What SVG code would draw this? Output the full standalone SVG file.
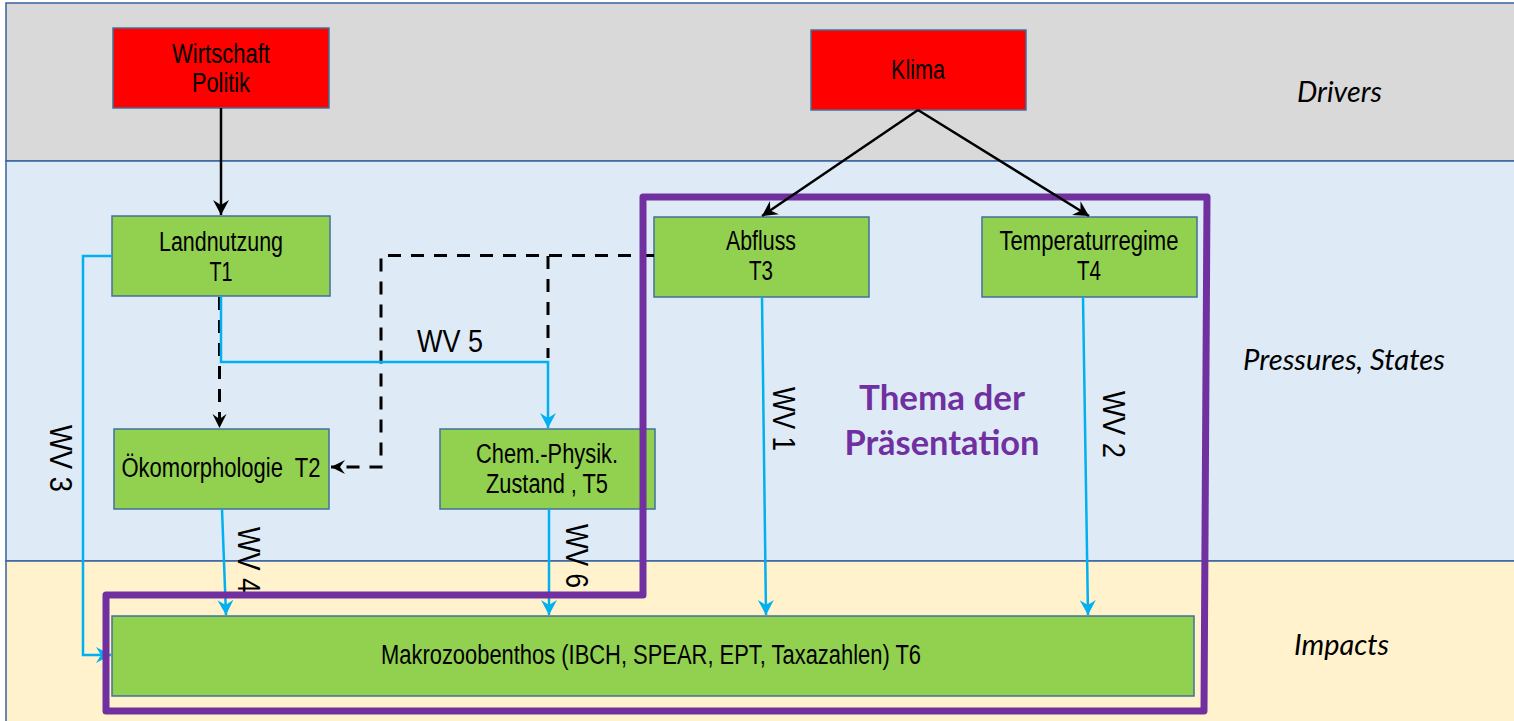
<svg xmlns="http://www.w3.org/2000/svg" width="1514" height="721" viewBox="0 0 1514 721">
  <style>
    .band { stroke: #3a62a0; stroke-width: 1.5; }
    .red { fill: #ff0000; stroke: #41719c; stroke-width: 1.5; }
    .green { fill: #92d050; stroke: #41719c; stroke-width: 1.5; }
    .lbl { font-family: "Liberation Sans Narrow", "Liberation Sans", Arial, sans-serif; font-size: 27px; fill: #000; text-anchor: middle; }
    .wv { font-family: "Liberation Sans Narrow", "Liberation Sans", Arial, sans-serif; font-size: 31px; fill: #000; }
    .layer { font-family: Lato, "Open Sans", "Noto Sans", sans-serif; font-style: italic; font-size: 29px; fill: #000; }
    .theme { font-family: Lato, "Open Sans", "Noto Sans", sans-serif; font-weight: bold; font-size: 35px; fill: #7030a0; text-anchor: middle; }
    .blue { fill: none; stroke: #00b0f0; stroke-width: 2.5; }
    .dash { fill: none; stroke: #000; stroke-width: 3; stroke-dasharray: 13 10; }
    .solid { fill: none; stroke: #000; stroke-width: 2.5; }
  </style>
  <defs>
    <marker id="ah-black" markerUnits="userSpaceOnUse" viewBox="-16 -9 17 18" refX="0" refY="0" markerWidth="17" markerHeight="18" orient="auto">
      <path d="M0,0 L-15,-8 L-10,0 L-15,8 Z" fill="#000"/>
    </marker>
    <marker id="ah-blue" markerUnits="userSpaceOnUse" viewBox="-16 -9 17 18" refX="0" refY="0" markerWidth="17" markerHeight="18" orient="auto">
      <path d="M0,0 L-15,-8 L-10,0 L-15,8 Z" fill="#00b0f0"/>
    </marker>
    <marker id="ah-dash" markerUnits="userSpaceOnUse" viewBox="-16 -8 17 16" refX="0" refY="0" markerWidth="17" markerHeight="16" orient="auto">
      <path d="M0,0 L-14,-7 L-9,0 L-14,7 Z" fill="#000"/>
    </marker>
  </defs>

  <!-- layer bands -->
  <g id="bands">
    <rect class="band" x="6" y="3" width="1530" height="158" fill="#d9d9d9"/>
    <rect class="band" x="6" y="161" width="1530" height="400" fill="#deebf7"/>
    <rect class="band" x="6" y="561" width="1530" height="180" fill="#fff2cc"/>
    <text class="layer" x="1297" y="102" textLength="85" lengthAdjust="spacingAndGlyphs">Drivers</text>
    <text class="layer" x="1243" y="370" textLength="202" lengthAdjust="spacingAndGlyphs">Pressures, States</text>
    <text class="layer" x="1294" y="655" textLength="95" lengthAdjust="spacingAndGlyphs">Impacts</text>
  </g>

  <!-- nodes -->
  <g id="wirtschaft-politik">
    <rect class="red" x="113" y="28" width="216" height="80"/>
    <text class="lbl" x="221" y="63" textLength="98" lengthAdjust="spacingAndGlyphs">Wirtschaft</text>
    <text class="lbl" x="221" y="92" textLength="58" lengthAdjust="spacingAndGlyphs">Politik</text>
  </g>
  <g id="klima">
    <rect class="red" x="811" y="30" width="215" height="80"/>
    <text class="lbl" x="918" y="79" textLength="54" lengthAdjust="spacingAndGlyphs">Klima</text>
  </g>
  <g id="landnutzung">
    <rect class="green" x="112" y="216" width="218" height="80"/>
    <text class="lbl" x="221" y="251" textLength="124" lengthAdjust="spacingAndGlyphs">Landnutzung</text>
    <text class="lbl" x="221" y="281" textLength="23" lengthAdjust="spacingAndGlyphs">T1</text>
  </g>
  <g id="abfluss">
    <rect class="green" x="654" y="217" width="215" height="80"/>
    <text class="lbl" x="761" y="250" textLength="70" lengthAdjust="spacingAndGlyphs">Abfluss</text>
    <text class="lbl" x="761" y="280" textLength="24" lengthAdjust="spacingAndGlyphs">T3</text>
  </g>
  <g id="temperaturregime">
    <rect class="green" x="982" y="217" width="215" height="80"/>
    <text class="lbl" x="1089" y="250" textLength="179" lengthAdjust="spacingAndGlyphs">Temperaturregime</text>
    <text class="lbl" x="1089" y="280" textLength="24" lengthAdjust="spacingAndGlyphs">T4</text>
  </g>
  <g id="oekomorphologie">
    <rect class="green" x="114" y="429" width="215" height="80"/>
    <text class="lbl" x="221" y="477" textLength="199" lengthAdjust="spacingAndGlyphs" xml:space="preserve">Ökomorphologie  T2</text>
  </g>
  <g id="chem-physik">
    <rect class="green" x="440" y="429" width="215" height="80"/>
    <text class="lbl" x="547" y="463" textLength="142" lengthAdjust="spacingAndGlyphs">Chem.-Physik.</text>
    <text class="lbl" x="547" y="493" textLength="122" lengthAdjust="spacingAndGlyphs">Zustand , T5</text>
  </g>
  <g id="makrozoobenthos">
    <rect class="green" x="112" y="616" width="1082" height="80"/>
    <text class="lbl" x="651" y="664" textLength="540" lengthAdjust="spacingAndGlyphs">Makrozoobenthos (IBCH, SPEAR, EPT, Taxazahlen) T6</text>
  </g>

  <!-- connectors (pressures / states / impacts) -->
  <g id="connectors">
    <path class="dash" d="M654,255.5 H381 V467 H331" marker-end="url(#ah-dash)"/>
    <path class="dash" d="M548,256 V358"/>
    <path class="dash" d="M219.5,297 V428" marker-end="url(#ah-dash)"/>
    <path class="blue" d="M112,256 H83 V655 H111" marker-end="url(#ah-blue)"/>
    <path class="blue" d="M221,296 V362 H548 V428" marker-end="url(#ah-blue)"/>
    <path class="blue" d="M222,509 L226,615" marker-end="url(#ah-blue)"/>
    <path class="blue" d="M549,509 V615" marker-end="url(#ah-blue)"/>
    <path class="blue" d="M762,297 L766,615" marker-end="url(#ah-blue)"/>
    <path class="blue" d="M1083,297 L1088,615" marker-end="url(#ah-blue)"/>
    <text class="wv" x="417" y="352" textLength="66" lengthAdjust="spacingAndGlyphs">WV 5</text>
    <text class="wv" transform="translate(50,425) rotate(90)" textLength="67" lengthAdjust="spacingAndGlyphs">WV 3</text>
    <text class="wv" transform="translate(773,387) rotate(90)" textLength="64" lengthAdjust="spacingAndGlyphs">WV 1</text>
    <text class="wv" transform="translate(1103,391) rotate(90)" textLength="67" lengthAdjust="spacingAndGlyphs">WV 2</text>
    <text class="wv" transform="translate(238,527) rotate(90)" textLength="66" lengthAdjust="spacingAndGlyphs">WV 4</text>
    <text class="wv" transform="translate(566,524) rotate(90)" textLength="64" lengthAdjust="spacingAndGlyphs">WV 6</text>
  </g>

  <!-- focus frame -->
  <g id="thema-der-praesentation">
    <path d="M106,595 H643 V197 H1207 L1204,711 H106 Z" fill="none" stroke="#7030a0" stroke-width="7" stroke-linejoin="round"/>
    <text class="theme" x="942" y="410" textLength="166" lengthAdjust="spacingAndGlyphs">Thema der</text>
    <text class="theme" x="942" y="455" textLength="195" lengthAdjust="spacingAndGlyphs">Präsentation</text>
  </g>

  <!-- connectors (drivers) -->
  <g id="connectors-drivers">
    <path class="solid" d="M221,108 V215" marker-end="url(#ah-black)"/>
    <path class="solid" d="M918,110 L762,216" marker-end="url(#ah-black)"/>
    <path class="solid" d="M918,110 L1089,216" marker-end="url(#ah-black)"/>
  </g>
</svg>
